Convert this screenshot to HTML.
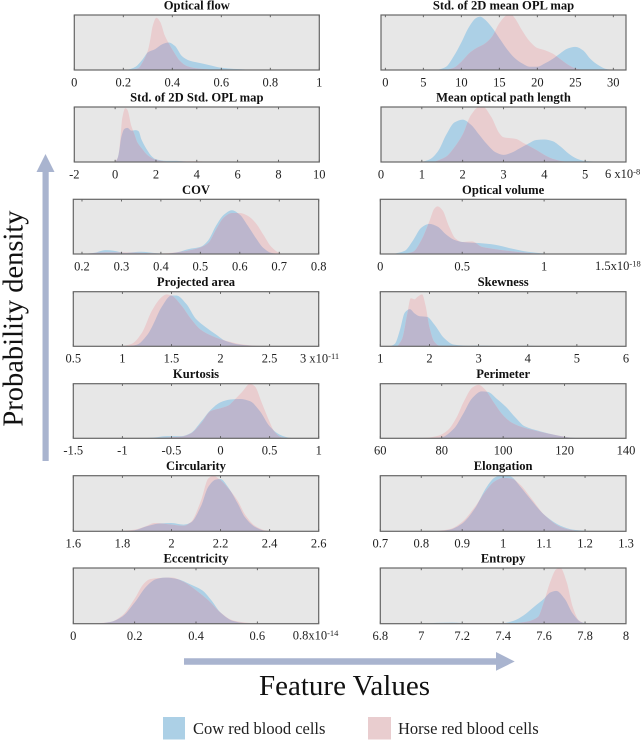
<!DOCTYPE html>
<html lang="en">
<head>
<meta charset="utf-8">
<title>Feature probability densities</title>
<style>
html,body{margin:0;padding:0;background:#fff;}
body{width:644px;height:742px;overflow:hidden;}
svg{display:block;filter:blur(0.35px);}
text{font-family:"Liberation Serif",serif;fill:#222;}
.tick{font-size:12.5px;text-anchor:middle;}
.title{font-size:12.6px;font-weight:bold;text-anchor:middle;fill:#111;}
.big{fill:#111;}
.leg{font-size:16.5px;fill:#222;}
</style>
</head>
<body>
<svg id="chart" xmlns="http://www.w3.org/2000/svg" width="644" height="742" viewBox="0 0 644 742">
  <g id="panels"></g>
  <g>
    <path d="M42.5 461V172H36.5L45.5 154L54.5 172H48.7V461Z" fill="#a9b4cf"/>
  </g>
  <text class="big" transform="translate(22.5,318.5) rotate(-90)" text-anchor="middle" font-size="28.5">Probability density</text>
  <g>
    <path d="M184 658.3H496V652L514.7 661.5L496 670.7V664.7H184Z" fill="#a9b4cf"/>
  </g>
  <text class="big" x="344.5" y="695" text-anchor="middle" font-size="29">Feature Values</text>
  <g>
    <rect x="163" y="717" width="22" height="22.5" fill="#acd0e6"/>
    <text class="leg" x="193" y="734">Cow red blood cells</text>
    <rect x="368" y="717" width="23" height="22.5" fill="#e9cdcf"/>
    <text class="leg" x="398" y="734">Horse red blood cells</text>
  </g>
</svg>
<script>
// Density series as [feature value, relative density] pairs.
const opticalFlowCow=[[.2,0],[.22,.01],[.25,.06],[.28,.2],[.3,.32],[.33,.38],[.36,.47],[.385,.5],[.41,.44],[.44,.25],[.47,.17],[.52,.12],[.56,.08],[.6,.04],[.65,.02],[.7,.01],[.75,0]];
const opticalFlowHorse=[[.22,0],[.26,.03],[.28,.15],[.3,.35],[.31,.55],[.32,.8],[.335,.95],[.35,.88],[.37,.62],[.39,.45],[.41,.3],[.43,.17],[.46,.07],[.5,.03],[.55,.01],[.6,0]];
const stdStdCow=[[0,0],[.1,.05],[.2,.2],[.3,.45],[.45,.6],[.6,.62],[.8,.57],[1,.58],[1.15,.56],[1.3,.4],[1.6,.2],[1.8,.1],[2,.05],[2.5,.02],[3,.02],[3.5,.01],[4,.01],[5,0]];
const stdStdHorse=[[0,0],[.15,.1],[.25,.4],[.35,.8],[.5,.98],[.6,.95],[.8,.65],[.95,.5],[1.1,.35],[1.3,.25],[1.6,.12],[2,.04],[2.5,.01],[3,.01],[4,.015],[4.5,0]];
const covCow=[[.2,0],[.23,.02],[.26,.07],[.28,.06],[.31,.02],[.35,.04],[.38,.02],[.41,.005],[.44,.03],[.47,.09],[.5,.13],[.52,.25],[.54,.52],[.56,.72],[.58,.8],[.6,.72],[.62,.52],[.64,.3],[.66,.11],[.68,.02],[.7,0]];
const covHorse=[[.2,0],[.26,.03],[.3,.03],[.35,.02],[.4,.01],[.45,.04],[.5,.12],[.52,.2],[.54,.45],[.56,.67],[.58,.75],[.6,.75],[.62,.7],[.64,.57],[.66,.35],[.68,.13],[.7,.02],[.71,0]];
const projectedCow=[[1.05,0],[1.15,.03],[1.25,.2],[1.3,.35],[1.4,.72],[1.5,.93],[1.55,.93],[1.65,.78],[1.75,.5],[1.85,.35],[1.95,.22],[2.05,.1],[2.2,.03],[2.4,0]];
const projectedHorse=[[1,0],[1.1,.05],[1.2,.25],[1.3,.65],[1.4,.9],[1.45,.95],[1.5,.93],[1.6,.75],[1.7,.5],[1.8,.3],[1.9,.2],[2,.13],[2.1,.08],[2.2,.04],[2.4,.005],[2.5,0]];
const kurtosisCow=[[-.8,0],[-.65,.02],[-.55,.04],[-.4,.04],[-.3,.1],[-.2,.3],[-.1,.52],[0,.66],[.1,.71],[.2,.72],[.3,.68],[.4,.5],[.5,.22],[.6,.07],[.7,.01],[.75,0]];
const kurtosisHorse=[[-.75,0],[-.6,.01],[-.4,.03],[-.3,.09],[-.2,.27],[-.1,.5],[0,.55],[.08,.6],[.15,.72],[.22,.85],[.3,1],[.35,.95],[.42,.65],[.5,.3],[.55,.12],[.62,.02],[.7,0]];
const circularityCow=[[1.8,0],[1.85,.02],[1.9,.09],[1.95,.14],[2,.15],[2.05,.12],[2.08,.16],[2.12,.45],[2.15,.8],[2.18,.93],[2.2,.94],[2.23,.8],[2.27,.5],[2.3,.25],[2.34,.08],[2.38,.01],[2.4,0]];
const circularityHorse=[[1.78,0],[1.85,.03],[1.9,.1],[1.93,.15],[2,.12],[2.05,.1],[2.08,.17],[2.12,.55],[2.15,.95],[2.17,1],[2.2,.92],[2.23,.78],[2.27,.55],[2.3,.3],[2.34,.1],[2.38,.02],[2.42,0]];
const eccentricityCow=[[.08,0],[.12,.03],[.16,.13],[.2,.38],[.24,.68],[.27,.8],[.3,.83],[.34,.8],[.38,.71],[.42,.6],[.45,.42],[.48,.2],[.52,.05],[.56,.01],[.6,0]];
const eccentricityHorse=[[.06,0],[.12,.03],[.16,.15],[.2,.45],[.23,.72],[.25,.8],[.28,.82],[.32,.83],[.36,.75],[.4,.6],[.44,.42],[.48,.2],[.52,.06],[.58,.01],[.62,0]];
const stdMeanCow=[[6,0],[7,.01],[8,.06],[9,.25],[10,.5],[11,.78],[12,.95],[12.5,.97],[13,.93],[14,.78],[15,.58],[16,.38],[17,.22],[18,.12],[19,.06],[20,.06],[21,.12],[22,.2],[23,.3],[24,.39],[25,.42],[26,.36],[27,.2],[28,.09],[29,.02],[30,0]];
const stdMeanHorse=[[8,0],[9,.04],[10,.15],[11,.3],[12,.4],[13,.47],[14,.6],[15,.85],[16,1],[16.5,1.02],[17,.95],[18,.72],[19,.52],[20,.4],[21,.36],[22,.3],[23,.2],[24,.1],[25,.03],[26,0]];
const meanPathCow=[[1,0],[1.2,.05],[1.4,.2],[1.6,.5],[1.8,.72],[2,.77],[2.2,.68],[2.4,.5],[2.6,.32],[2.8,.18],[3,.13],[3.2,.17],[3.4,.25],[3.6,.33],[3.8,.4],[4,.41],[4.2,.38],[4.4,.28],[4.6,.15],[4.8,.06],[5,.02],[5.4,0]];
const meanPathHorse=[[1.3,0],[1.6,.1],[1.8,.27],[2,.5],[2.2,.85],[2.4,1],[2.5,1],[2.7,.82],[2.9,.52],[3,.45],[3.3,.42],[3.5,.34],[3.8,.22],[4,.13],[4.2,.06],[4.5,.01],[4.8,0]];
const volumeCow=[[.08,0],[.15,.06],[.2,.25],[.25,.48],[.3,.55],[.35,.5],[.4,.36],[.45,.26],[.5,.22],[.6,.2],[.7,.17],[.8,.1],[.9,.04],[1,.01],[1.15,0]];
const volumeHorse=[[.15,0],[.2,.04],[.25,.25],[.3,.6],[.33,.83],[.35,.87],[.38,.8],[.42,.5],[.46,.28],[.5,.22],[.56,.23],[.62,.13],[.7,.09],[.8,.05],[.9,.02],[1,0]];
const skewnessCow=[[1.2,0],[1.3,.05],[1.4,.3],[1.5,.62],[1.6,.68],[1.7,.6],[1.8,.55],[1.95,.54],[2.1,.4],[2.3,.15],[2.5,.03],[2.8,.01],[3,.015],[3.5,.005],[4,.01],[4.3,0]];
const skewnessHorse=[[1.35,0],[1.45,.15],[1.55,.6],[1.62,.88],[1.7,.86],[1.75,.9],[1.85,.95],[1.92,.75],[2,.35],[2.1,.08],[2.2,.01],[2.4,0]];
const perimeterCow=[[75,0],[80,.02],[84,.18],[87,.45],[90,.74],[93,.86],[95,.85],[98,.72],[101,.57],[104,.38],[107,.22],[112,.13],[117,.06],[121,.02],[125,0]];
const perimeterHorse=[[70,0],[75,.01],[79,.05],[82,.15],[85,.4],[87,.65],[90,.93],[92,.98],[94,.9],[97,.65],[100,.42],[103,.28],[107,.19],[112,.12],[117,.06],[121,.02],[124,0]];
const elongationCow=[[.84,0],[.87,.03],[.9,.14],[.93,.4],[.96,.8],[.98,.97],[1,1.02],[1.02,.98],[1.04,.82],[1.07,.55],[1.1,.3],[1.14,.1],[1.17,.03],[1.2,.01],[1.22,0]];
const elongationHorse=[[.83,0],[.87,.04],[.9,.17],[.93,.43],[.96,.75],[.98,.9],[1,.96],[1.02,.95],[1.04,.85],[1.07,.58],[1.1,.3],[1.14,.08],[1.17,.02],[1.2,0]];
const entropyCow=[[7,.005],[7.15,.02],[7.25,.005],[7.4,.01],[7.45,.05],[7.5,.15],[7.55,.3],[7.6,.45],[7.63,.56],[7.66,.59],[7.7,.45],[7.74,.18],[7.78,.03],[7.82,0]];
const entropyHorse=[[7,0],[7.3,.01],[7.45,.01],[7.52,.04],[7.57,.12],[7.6,.4],[7.63,.75],[7.66,.98],[7.68,1],[7.71,.75],[7.74,.3],[7.77,.06],[7.8,0]];

// Tick values for each feature axis.
const opticalFlowTicks=[0,.2,.4,.6,.8,1];
const stdStdTicks=[-2,0,2,4,6,8,10];
const covTicks=[.2,.3,.4,.5,.6,.7,.8];
const projectedTicks=[.5,1,1.5,2,2.5,3];
const kurtosisTicks=[-1.5,-1,-.5,0,.5,1];
const circularityTicks=[1.6,1.8,2,2.2,2.4,2.6];
const eccentricityTicks=[0,.2,.4,.6,.8];
const stdMeanTicks=[0,5,10,15,20,25,30];
const meanPathTicks=[0,1,2,3,4,5,6];
const volumeTicks=[0,.5,1,1.5];
const skewnessTicks=[1,2,3,4,5,6];
const perimeterTicks=[60,80,100,120,140];
const elongationTicks=[.7,.8,.9,1,1.1,1.2,1.3];
const entropyTicks=[6.8,7,7.2,7.4,7.6,7.8,8];

const rowTop=[15,107,199.3,291.7,383.7,475.7,568];
const rowBottom=[70,162,254,346.3,438.3,531.3,623.7];

const panelDefs=[
 {name:'optical-flow',title:'Optical flow',col:0,row:0,d:[0,1],t:opticalFlowTicks,cow:opticalFlowCow,horse:opticalFlowHorse},
 {name:'std-std-opl',title:'Std. of 2D Std. OPL map',col:0,row:1,d:[-2,10],t:stdStdTicks,cow:stdStdCow,horse:stdStdHorse},
 {name:'cov',title:'COV',col:0,row:2,d:[.178,.8],t:covTicks,cow:covCow,horse:covHorse},
 {name:'projected-area',title:'Projected area',col:0,row:3,d:[.5,3],t:projectedTicks,cow:projectedCow,horse:projectedHorse,exp:{base:'3 x10',sup:'-11',x:300}},
 {name:'kurtosis',title:'Kurtosis',col:0,row:4,d:[-1.5,1],t:kurtosisTicks,cow:kurtosisCow,horse:kurtosisHorse},
 {name:'circularity',title:'Circularity',col:0,row:5,d:[1.6,2.6],t:circularityTicks,cow:circularityCow,horse:circularityHorse},
 {name:'eccentricity',title:'Eccentricity',col:0,row:6,d:[0,.8],t:eccentricityTicks,cow:eccentricityCow,horse:eccentricityHorse,exp:{base:'0.8x10',sup:'-14',x:292.7}},
 {name:'std-mean-opl',title:'Std. of 2D mean OPL map',col:1,row:0,d:[-.57,31.67],t:stdMeanTicks,cow:stdMeanCow,horse:stdMeanHorse},
 {name:'mean-optical-path',title:'Mean optical path length',col:1,row:1,d:[0,6],t:meanPathTicks,cow:meanPathCow,horse:meanPathHorse,exp:{base:'6 x10',sup:'-8',x:605}},
 {name:'optical-volume',title:'Optical volume',col:1,row:2,d:[0,1.5],t:volumeTicks,cow:volumeCow,horse:volumeHorse,exp:{base:'1.5x10',sup:'-18',x:595}},
 {name:'skewness',title:'Skewness',col:1,row:3,d:[1,6],t:skewnessTicks,cow:skewnessCow,horse:skewnessHorse},
 {name:'perimeter',title:'Perimeter',col:1,row:4,d:[60,140],t:perimeterTicks,cow:perimeterCow,horse:perimeterHorse},
 {name:'elongation',title:'Elongation',col:1,row:5,d:[.7,1.3],t:elongationTicks,cow:elongationCow,horse:elongationHorse},
 {name:'entropy',title:'Entropy',col:1,row:6,d:[6.8,8],t:entropyTicks,cow:entropyCow,horse:entropyHorse}
];

const NS='http://www.w3.org/2000/svg';
function make(tag,attrs,parent){
  const el=document.createElementNS(NS,tag);
  for(const k in attrs){el.setAttribute(k,attrs[k]);}
  parent.appendChild(el);
  return el;
}
// Monotone cubic path through the projected points.
function curve(pts){
  const n=pts.length,dx=[],m=[],t=[];
  for(let i=0;i<n-1;i++){
    dx[i]=pts[i+1][0]-pts[i][0];
    m[i]=(pts[i+1][1]-pts[i][1])/(dx[i]||1);
  }
  t[0]=m[0];t[n-1]=m[n-2];
  for(let i=1;i<n-1;i++){
    t[i]=m[i-1]*m[i]<=0?0:2*m[i-1]*m[i]/(m[i-1]+m[i]);
  }
  let d='M'+pts[0][0].toFixed(2)+' '+pts[0][1].toFixed(2);
  for(let i=0;i<n-1;i++){
    const h=dx[i]/3;
    d+='C'+(pts[i][0]+h).toFixed(2)+' '+(pts[i][1]+t[i]*h).toFixed(2)+' '
      +(pts[i+1][0]-h).toFixed(2)+' '+(pts[i+1][1]-t[i+1]*h).toFixed(2)+' '
      +pts[i+1][0].toFixed(2)+' '+pts[i+1][1].toFixed(2);
  }
  return d;
}
function areaPath(series,xs,ys,base){
  const pts=series.map(function(p){return [xs(p[0]),ys(p[1])];});
  return 'M'+pts[0][0].toFixed(2)+' '+base+'L'+curve(pts).slice(1)+'L'+pts[pts.length-1][0].toFixed(2)+' '+base+'Z';
}
const root=document.getElementById('panels');
panelDefs.forEach(function(p,idx){
  const useNarrow=p.row<2;
  const left=p.col===0?(useNarrow?74.3:73.3):(useNarrow?381:380.3);
  const right=p.col===0?(useNarrow?319.3:318.7):626;
  const top=rowTop[p.row],bottom=rowBottom[p.row];
  const xs=function(v){return left+(v-p.d[0])/(p.d[1]-p.d[0])*(right-left);};
  const ys=function(v){return bottom-v*(bottom-top);};

  const g=make('g',{},root);
  
  

  const bg=make('rect',{x:left,y:top,width:right-left,height:bottom-top,fill:'#e7e7e7'},g);
  
  

  const clip=make('clipPath',{id:'clip'+idx},g);
  make('rect',{x:left,y:top,width:right-left,height:bottom-top},clip);

  const cowD=areaPath(p.cow,xs,ys,bottom);
  const horseD=areaPath(p.horse,xs,ys,bottom);
  const clipCow=make('clipPath',{id:'clipcow'+idx},g);
  make('path',{d:cowD},clipCow);

  const marks=make('g',{'clip-path':'url(#clip'+idx+')'},g);
  
  

  const cow=make('path',{d:cowD,fill:'#acd0e6'},marks);
  
  

  const horse=make('path',{d:horseD,fill:'#e9cdcf'},marks);
  
  

  const overlap=make('path',{d:horseD,fill:'#bcb6cd','clip-path':'url(#clipcow'+idx+')'},marks);
  
  

  p.t.forEach(function(v,i){
    const x=xs(v);
    const t1=make('line',{x1:x,x2:x,y1:bottom,y2:bottom-2.2,stroke:'#555','stroke-width':.9},g);
    
    
    const t2=make('line',{x1:x,x2:x,y1:top,y2:top+2.2,stroke:'#555','stroke-width':.9},g);
    
    
    if(p.exp&&i===p.t.length-1){return;}
    const lab=make('text',{x:x,y:bottom+16.3,'class':'tick'},g);
    
    
    lab.textContent=String(v);
  });
  if(p.exp){
    const ex=make('text',{x:p.exp.x,y:bottom+16,'font-size':12.5},g);
    
    
    ex.appendChild(document.createTextNode(p.exp.base));
    const sup=make('tspan',{dy:-3.5,'font-size':8.5},ex);
    sup.textContent=p.exp.sup;
  }

  const frame=make('rect',{x:left,y:top,width:right-left,height:bottom-top,fill:'none',stroke:'#666','stroke-width':1.2},g);
  
  

  const ttl=make('text',{x:(left+right)/2,y:top-5.5,'class':'title'},g);
  
  
  ttl.textContent=p.title;
});
</script>
</body>
</html>
